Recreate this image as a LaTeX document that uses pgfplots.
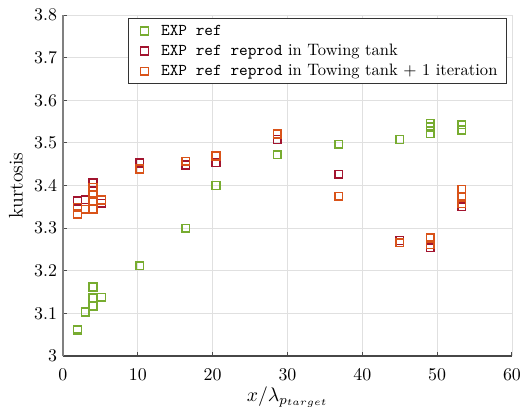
\RequirePackage{fix-cm}
\documentclass[border=0pt]{standalone}
\usepackage{fontspec}
\usepackage{pgfplots}
\pgfplotsset{compat=1.18}
\definecolor{cg}{rgb}{0.466,0.674,0.188}
\definecolor{cr}{rgb}{0.635,0.078,0.184}
\definecolor{co}{rgb}{0.85,0.325,0.098}
\begin{document}
\begin{tikzpicture}
\begin{axis}[name=ax, scale only axis, width=268.9pt, height=204.2pt,
  xmin=0, xmax=60, ymin=3, ymax=3.8,
  xtick={0,10,20,30,40,50,60},
  ytick={3,3.1,3.2,3.3,3.4,3.5,3.6,3.7,3.8},
  axis lines=left, axis line style={-, line width=0.9pt},
  x axis line style={black!72}, y axis line style={black!50},
  tick align=inside, major tick length=2.5pt,
  tick style={black!70, line width=0.6pt},
  grid=major, grid style={black!12, line width=0.5pt},
  ticklabel style={font=\fontsize{10.7}{12}\selectfont},
  xticklabel style={yshift=-4pt},
  xlabel={$x/\lambda_{p_{target}}$}, ylabel={kurtosis},
  label style={font=\fontsize{11.8}{14}\selectfont},
  xlabel style={at={(axis description cs:0.5,-0.088)}, anchor=north, inner sep=0pt},
  ylabel style={at={(axis description cs:-0.1047,0.5)}, anchor=center, inner sep=0pt},
  legend style={at={(1,1)}, anchor=north east, xshift=-3pt, yshift=-1.8pt,
    draw=black!80, line width=0.6pt, inner xsep=2pt, inner ysep=1.5pt,
    font=\fontsize{9.9}{11}\selectfont, column sep=0pt,
    nodes={inner xsep=3.4pt, inner ysep=1.5pt, text height=7pt, text depth=2pt}},
  legend cell align=left,
  legend image code/.code={\path[draw=none,fill=none] (0pt,-1pt) rectangle (14pt,1pt); \draw[#1] plot coordinates {(7.5pt,0pt)};},
  every axis plot/.append style={only marks, mark=square, mark size=2.3pt, line width=0.95pt},
]
\addplot[cg] coordinates {
(1.95,3.060) (1.95,3.063) (3.0,3.103) (4.0,3.162) (4.0,3.136) (4.0,3.117)
(5.15,3.138) (10.25,3.212) (16.4,3.300) (20.45,3.400) (28.65,3.472)
(36.85,3.497) (45.0,3.508) (49.1,3.546) (49.1,3.537) (49.1,3.522)
(53.3,3.543) (53.3,3.530)
};
\addlegendentry{\texttt{EXP ref}}
\addplot[cr] coordinates {
(1.95,3.364) (3.0,3.367) (4.0,3.406) (5.15,3.358) (10.25,3.453)
(16.4,3.448) (20.45,3.454) (28.65,3.508) (36.85,3.426) (45.0,3.271)
(49.1,3.254) (53.3,3.350)
};
\addlegendentry{\texttt{EXP ref reprod} in Towing tank}
\addplot[co] coordinates {
(1.95,3.349) (1.95,3.333) (3.0,3.344) (4.0,3.396) (4.0,3.379) (4.0,3.364)
(4.0,3.344) (5.15,3.366) (10.25,3.439) (16.4,3.457) (20.45,3.469)
(28.65,3.521) (36.85,3.375) (45.0,3.266) (49.1,3.277) (49.1,3.261)
(53.3,3.391) (53.3,3.373) (53.3,3.357)
};
\addlegendentry{\texttt{EXP ref reprod} in Towing tank $+$ 1 iteration}
\end{axis}
\pgfresetboundingbox
\path ([shift={(-37.7pt,-35.9pt)}]ax.south west) rectangle ([shift={(6pt,9pt)}]ax.north east);
\end{tikzpicture}
\end{document}
